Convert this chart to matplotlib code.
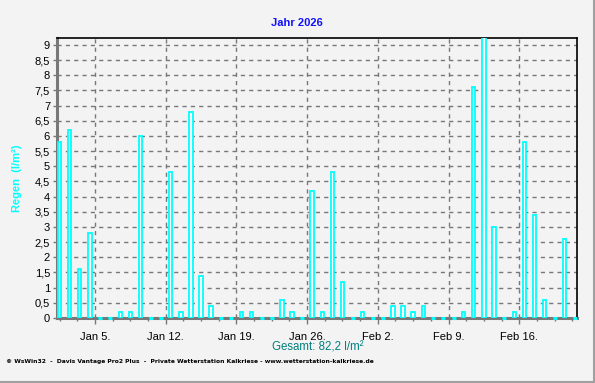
import numpy as np
import matplotlib
matplotlib.use("Agg")
import matplotlib.pyplot as plt
import matplotlib.dates as mdates
from matplotlib.lines import Line2D
from matplotlib.ticker import FixedLocator, FuncFormatter, MultipleLocator

# daily rain, Jan 1 .. Feb 21 2026 (l/m²)
days = np.arange("2026-01-01", "2026-02-22", dtype="datetime64[D]")
rain = [5.8, 6.2, 1.6, 2.8, 0, 0, 0.2, 0.2, 6.0, 0,
        0, 4.8, 0.2, 6.8, 1.4, 0.4, 0, 0, 0.2, 0.2,
        0, 0, 0.6, 0.2, 0, 4.2, 0.2, 4.8, 1.2, 0,
        0.2, 0, 0, 0.4, 0.4, 0.2, 0.4, 0, 0, 0,
        0.2, 7.6, 9.6, 3.0, 0, 0.2, 5.8, 3.4, 0.6, 0,
        2.6, 0]
tick_days = ["2026-01-05", "2026-01-12", "2026-01-19", "2026-01-26",
             "2026-02-02", "2026-02-09", "2026-02-16"]
tick_labels = ["Jan 5.", "Jan 12.", "Jan 19.", "Jan 26.", "Feb 2.", "Feb 9.", "Feb 16."]
title = "Jahr 2026"
total = "Gesamt: 82,2 l/m²"
footer = ("© WsWin32  -  Davis Vantage Pro2 Plus  -  Private Wetterstation Kalkriese"
          " - www.wetterstation-kalkriese.de")

plt.rcParams["font.family"] = ["Liberation Sans", "DejaVu Sans"]
bg = "#f3f3f3"
grey = "#787878"

fig = plt.figure(figsize=(5.95, 3.83), dpi=100, facecolor=bg)
ax = fig.add_axes([57 / 595, 65 / 383, 520 / 595, 280 / 383], facecolor=bg)

x = mdates.date2num(days) + 0.5
r = np.array(rain)
ax.bar(x, r, width=0.33, color="white", edgecolor="#00ffff", linewidth=1.3, zorder=5)
# dry days show a flat cyan stub on the baseline
ax.plot(x[r == 0], r[r == 0], linestyle="none", marker="_", markersize=3.2,
        markeredgewidth=2.2, color="#00ffff", zorder=5, clip_on=False)

t0 = mdates.date2num(np.datetime64("2026-01-01"))
ax.set_xlim(t0 + 0.24, t0 + 51.72)
ax.set_ylim(0, 9.23)

majors = mdates.date2num(np.array(tick_days, dtype="datetime64[D]"))
ax.xaxis.set_major_locator(FixedLocator(majors))
ax.set_xticklabels(tick_labels)
ax.xaxis.set_minor_locator(FixedLocator(majors[0] + 1.75 * np.arange(-2, 28)))
ax.yaxis.set_major_locator(MultipleLocator(0.5))
ax.yaxis.set_major_formatter(FuncFormatter(lambda v, p: f"{v:g}".replace(".", ",")))

ax.grid(True, color=grey, linestyle=(0, (3, 3)), linewidth=1.0, zorder=1)
ax.tick_params(axis="both", labelsize=8, colors=grey, labelcolor="black",
               direction="out", length=3, width=1, pad=2)
ax.tick_params(axis="x", which="minor", length=2.5, width=1, colors=grey)
ax.tick_params(axis="x", length=4, pad=6)

for side in ["left", "bottom"]:
    ax.spines[side].set_color(grey)
    ax.spines[side].set_linewidth(2.2)
    ax.spines[side].set_zorder(2)
for side in ["top", "right"]:
    ax.spines[side].set_color("black")
    ax.spines[side].set_linewidth(1.2)

ax.set_ylabel("Regen  (l/m²)", color="#00ffff", fontsize=8, fontweight="bold", labelpad=9)

fig.text(297 / 595, 1 - 23 / 383, title, color="#1010ff", fontsize=8, fontweight="bold",
         ha="center", va="center")
fig.text(318 / 595, 1 - 348 / 383, total, color="#008080", fontsize=8.3,
         ha="center", va="center")
fig.text(6 / 595, 1 - 362 / 383, footer, color="black", fontsize=4.3, fontweight="bold",
         ha="left", va="center", family=["DejaVu Sans"])

fig.add_artist(Line2D([593.5 / 595, 593.5 / 595], [1.5 / 383, 1], color="#a0a0a0", lw=1.5))
fig.add_artist(Line2D([0, 593.5 / 595], [1.5 / 383, 1.5 / 383], color="#a0a0a0", lw=1.5))

fig.savefig("out.png", dpi=100, facecolor=bg)
